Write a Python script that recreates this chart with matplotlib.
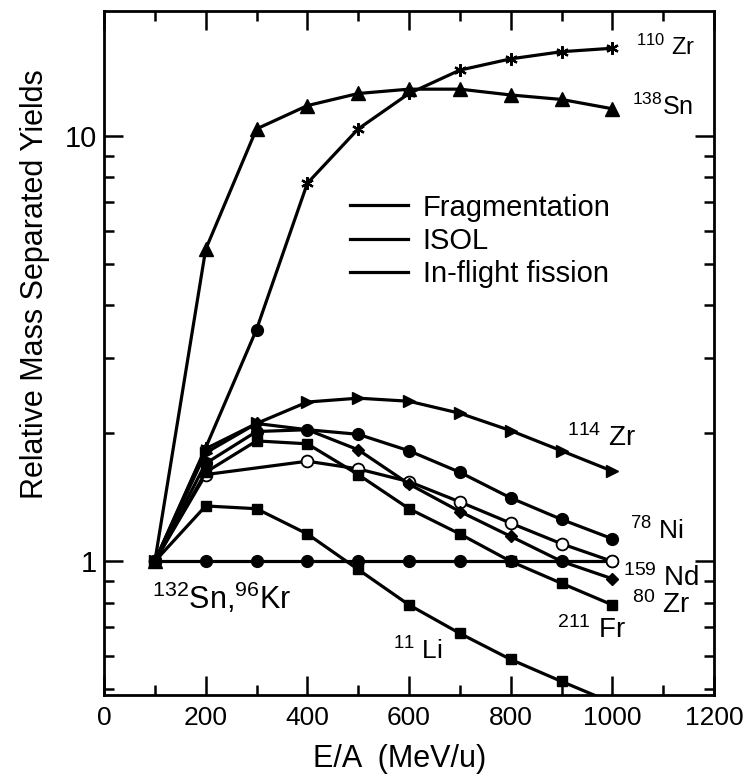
import matplotlib
matplotlib.use("Agg")
import matplotlib.pyplot as plt
from matplotlib.lines import Line2D
from matplotlib.ticker import FixedLocator, MultipleLocator, NullFormatter

plt.rcParams['font.family'] = ['Liberation Sans', 'DejaVu Sans']
plt.rcParams['mathtext.default'] = 'regular'

# beam energy per nucleon (MeV/u)
energy = [100, 200, 300, 400, 500, 600, 700, 800, 900, 1000]
energy_no300 = [100, 200, 400, 500, 600, 700, 800, 900, 1000]

# relative mass separated yields, normalised to 1 at 100 MeV/u
zr110 = [1.0, 1.85, 3.51, 7.75, 10.4, 12.6, 14.3, 15.2, 15.8, 16.1]
sn138 = [1.0, 5.42, 10.4, 11.8, 12.6, 12.9, 12.9, 12.5, 12.2, 11.6]
zr114 = [1.0, 1.80, 2.11, 2.37, 2.42, 2.38, 2.23, 2.03, 1.82, 1.63]
ni78 = [1.0, 1.70, 2.02, 2.04, 1.99, 1.82, 1.62, 1.41, 1.255, 1.13]
nd159 = [1.0, 1.84, 2.11, 2.04, 1.83, 1.52, 1.31, 1.145, 1.0, 0.91]
zr80 = [1.0, 1.62, 1.92, 1.89, 1.60, 1.33, 1.16, 1.0, 0.888, 0.79]
fr211 = [1.0, 1.60, 1.72, 1.65, 1.54, 1.38, 1.23, 1.10, 1.0]
li11 = [1.0, 1.35, 1.33, 1.16, 0.957, 0.79, 0.677, 0.588, 0.522, 0.465]
sn132_kr96 = [1.0, 1.0, 1.0, 1.0, 1.0, 1.0, 1.0, 1.0, 1.0, 1.0]

legend_labels = ["Fragmentation", "ISOL", "In-flight fission"]

fig = plt.figure(figsize=(7.44, 7.78), dpi=100)
ax = fig.add_axes([0.1398, 0.1067, 0.8199, 0.8792])

lw = 2.3
kw = dict(color="black", lw=lw, mec="black")
ax.plot(energy, sn132_kr96, marker="o", ms=8.5, mfc="black", **kw)
ax.plot(energy, li11, marker="s", ms=7.5, mfc="black", **kw)
ax.plot(energy_no300, fr211, marker="o", ms=8.5, mfc="white", mew=1.3, **kw)
ax.plot(energy, zr80, marker="s", ms=6.5, mfc="black", **kw)
ax.plot(energy, nd159, marker="D", ms=6.5, mfc="black", **kw)
ax.plot(energy, ni78, marker="o", ms=8.5, mfc="black", **kw)
ax.plot(energy, zr114, marker=">", ms=8.5, mfc="black", **kw)
ax.plot(energy, sn138, marker="^", ms=9.5, mfc="black", **kw)
ax.plot(energy, zr110, marker=(6, 2, 0), ms=9, mew=1.6,
        markevery=[0, 1, 3, 4, 5, 6, 7, 8, 9], **kw)
ax.plot(energy[2], zr110[2], marker="o", ms=8.5, color="black")

ax.set_xlim(0, 1200)
ax.set_ylim(0.485, 19.7)
ax.set_yscale("log")

ax.xaxis.set_major_locator(MultipleLocator(200))
ax.xaxis.set_minor_locator(MultipleLocator(100))
ax.set_yticks([1, 10])
ax.set_yticklabels(["1", "10"])
ax.yaxis.set_minor_locator(FixedLocator([0.5, 0.6, 0.7, 0.8, 0.9, 2, 3, 4, 5, 6, 7, 8, 9, 20]))
ax.yaxis.set_minor_formatter(NullFormatter())

ax.tick_params(which="both", direction="in", top=True, right=True, width=1.8)
ax.tick_params(which="major", length=14)
ax.tick_params(which="minor", length=7)
ax.tick_params(axis="x", pad=8, labelsize=19)
ax.tick_params(axis="y", pad=5, labelsize=21)
for sp in ax.spines.values():
    sp.set_linewidth(2)

ax.set_xlabel("E/A  (MeV/u)", fontsize=22)
ax.set_ylabel("Relative Mass Separated Yields", fontsize=22)
ax.xaxis.set_label_coords(0.485, -0.072)
ax.yaxis.set_label_coords(-0.088, 0.6)

# isotope labels next to the curves
ax.text(1047, 16.2, r"$^{110}$ Zr", fontsize=17, va="center")
ax.text(1039, 11.7, r"$^{138}$Sn", fontsize=18, va="center")
ax.text(911, 1.95, r"$^{114}$ Zr", fontsize=20, va="center")
ax.text(1035, 1.18, r"$^{78}$ Ni", fontsize=19, va="center")
ax.text(1021, 0.912, r"$^{159}$ Nd", fontsize=20, va="center")
ax.text(1039, 0.788, r"$^{80}$ Zr", fontsize=20, va="center")
ax.text(891, 0.688, r"$^{211}$ Fr", fontsize=20, va="center")
ax.text(569, 0.617, r"$^{11}$ Li", fontsize=19, va="center")
ax.text(94, 0.818, r"$^{132}$Sn,$^{96}$Kr", fontsize=22, va="center")

handles = [Line2D([], [], color="black", lw=lw) for _ in legend_labels]
ax.legend(handles, legend_labels, loc="upper left", bbox_to_anchor=(0.403, 0.733),
          frameon=False, fontsize=21, handlelength=2.0, handletextpad=0.5,
          labelspacing=0.18, borderpad=0, borderaxespad=0)

fig.savefig("out.png", dpi=100)
